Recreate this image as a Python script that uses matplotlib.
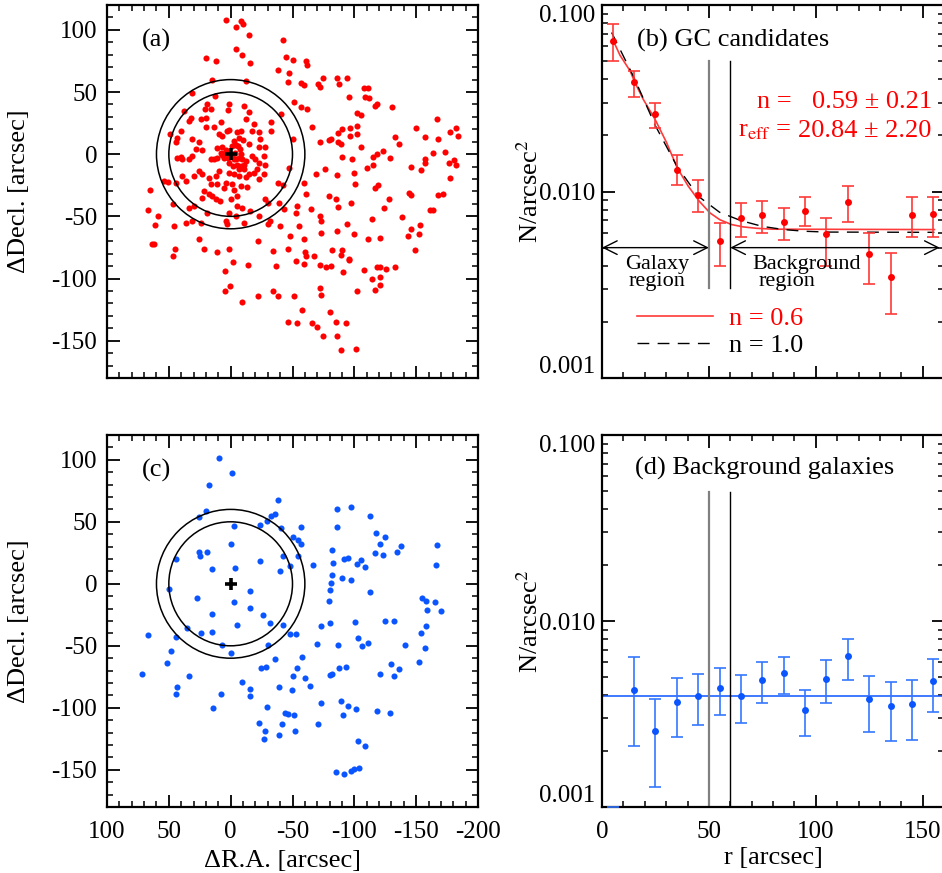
import matplotlib
matplotlib.use("Agg")
import matplotlib.pyplot as plt
from matplotlib.patches import Circle
from matplotlib.ticker import MultipleLocator, FixedLocator, FixedFormatter, LogLocator, NullFormatter

plt.rcParams['font.family'] = ['Liberation Serif', 'DejaVu Serif']
plt.rcParams['mathtext.fontset'] = 'stix'
plt.rcParams['axes.unicode_minus'] = False

# ---------------- (a) GC candidate positions [arcsec] ----------------
gc_dra = [
    4, -4, -8, -10, -15, -42, -4, -9, 20, -45, -50,
    65.5, 66.5,
    12, -16, -62, -61, -38, -47, 15, -12, -46, -57, -59, 31.5, 13, 19, 21, 16, 1, 2, -11, -15,
    -51, -57, -62, 38, -41, 32, 34, 24, 20, 8, -12, -19, -33, -65.5, 40, 20, 13.5, 3, 1, -5, -8,
    -17.5, -23, -33, 49, 43, 44.5, 31, 25.6, 9.4, 6.7, -6.7, -24, -50, -2.7, -10, -15, -28, -23,
    28, 23, 11, 6.7, 3.5, -1.3, -4.6, -6.2, -7.3, 40, 43, 39, 34, 31, 16, 13.5, 11, 7.3, 5.4,
    -2.7, -6.7, -9.4, -12, -17.5, -20, -23, -27, -28, -47, -69, 1.3, -2, -5.4, -8, -11, -6.7,
    -11, -21.6, -19, 39, 36, 44.5, 54, 51, 29.6, 25.6, 23, 17.5, 12, 9.4, 1.3, -2.7, -6.7, -12,
    -15, -27, -23, 16, 11, 4, -1.3, -8, -13.5, 5.4, -2.7, -38, -42, -59, 21.6, 17.5, 15, 12, 9,
    23, 0, -5.4, -28, -30, -39, -61, 29.6, 33.7, 19, 1.3, -5.4, -9.4, -4, -16, -23, -43, -54,
    -53, -65, 59, 47, 36, 31, 24, 4, 2.7, -11, -30, -32, -40, -55, 61, 46,
    4.6, -3.5, -4.6, 1, -1, 8, -8, 2,
    -71, -72, -75, -86, -88, -94, -96, -108, -111, -109, -112, -117, -118, -130.5, -102, -105,
    -90, -87, -96.5, -96.5, -102, -102, -79.5, -81, -72, -87, -89, -105, -90, -98, -115, -118,
    -123.5, -129, -115, -110, -100, -86, -76, -100.5, -119, -117, -128, -124, -114, -97.6, -85,
    -87, -79.5, -94, -86, -72, -73, -73, -100, -82, -90, -89, -96, -111, -120.5, -150, -157,
    -167, -168, -164, -177, -182.5, -184, -173, -176.5, -180.6, -182.5, -177, -157, -157, -154,
    -146, -133, -136, -144, -146, -168, -171.6, -161, -164, -138.5, -146, -153, -152, -143, -149,
    64, 62, 46.6, 45, 26, 21.6, 11, 1.6, -2.2, 4.6, 0.5, 4.6, -9.4, -13.7, -22, -34, -37, -34.5,
    -38, -22, -46, -53, -59, -51, -46, -54, -58, -65.5, -69.5, -60.6, -60, -59.6, -67.7, -48,
    -72, -73, -72, -77, -81, -80, -75, -85, -93, -86, -89, -101.6, -102, -90.6, -96, -108, -114,
    -117, -118.6, -120.5, -120.5, -121, -126, -133,
]
gc_ddec = [
    108, 102, 107, 105, 96, 92, 85, 80, 77, 78, 76,
    -29, -45,
    75, 73, 72, 75, 68, 65, 60, 59, 58, 57, 56, 49, 47, 40, 36, 36, 40, 35.5, 39, 34,
    42, 38, 36, 35, 32, 29, 27, 28, 29, 26, 28, 24, 25.5, 21.5, 19, 22, 21.5, 19, 19.4, 18, 19,
    19, 18, 19, 16, 13, 10, 12.6, 10, 16, 15, 13.4, 12.6, 12.6, 10.8, 11.6, 8, 6, 6,
    4, 3.5, 4.6, 5.4, 3.5, 6.2, 7.3, 6.2, 4, -2, -3, -4, -4, -1.3, -4, -3.5, -2.7, -0.8, -2.7,
    -4, -2.7, -3.5, -5.4, -1.3, -4, -6.7, -1.3, -9, -11, -16, -6.7, -9.4, -9, -9.4, -9, -12,
    -12, -12, -15, -17.5, -21.5, -23, -21.5, -22, -17.5, -13.4, -16, -19, -17.5, -13.4, -15, -16, -17.5, -18,
    -16, -16, -19.6, -24, -24, -23, -24, -25.5, -26, -27, -29, -23, -25, -23, -30, -32, -33.6, -36, -37.6,
    -35, -36, -33.6, -36, -39, -39, -32, -42, -43, -47, -47, -42, -43, -50, -46, -50, -44, -42,
    -47, -44, -50, -40, -55, -54, -55, -54, -56.5, -55, -56.5, -54, -58, -58, -57, -58,
    1.3, 0.8, -4, 2, -1.5, 1, 0, -3,
    56.5, 54, 61, 61, 56.5, 61, 46, 53, 53, 46, 45, 39, 40, 38, 33, 31.5,
    20, 17, 21, 15, 23, 16, 11.6, 12.6, 10, 10, 8, 5.6, -2, -4, -2, 0,
    2.4, -2.7, -9, -11, -15, -17, -12, -24, -25, -27, -36, -43.5, -52, -39.5, -36,
    -42.5, -33.6, -56.5, -62, -49.5, -54, -63, -64.5, -77, -77, -81, -84, -68.5, -67, 21, 14,
    28, 12, 1.3, 18, 21, 15, 1.6, -6.7, -4.6, -9, -19, -3.5, -7.3, -12.4,
    -10, 14, 8.6, -31.5, -33, -33, -32, -45, -45, -50.5, -60, -57, -64.5, -66, -77,
    -72, -72, -81.5, -76.6, -68.5, -76.6, -79, -76, -86.6, -94, -106, -110, -119, -89, -70, -78, -90, -110,
    -114, -114, -76, -86, -88, -114, -135, -136, -125.5, -136, -139, -81.5, -79, -68.5, -81.5, -66,
    -107.5, -113, -89, -91, -90, -127, -146, -135, -136, -146, -157.5, -157, -110, -95, -85, -93, -100,
    -109, -91, -91, -99, -105, -92, -91,
]

# ---------------- (c) background galaxy positions [arcsec] ----------------
bg_dra = [
    9.4, -1, 17.5, -38, 19.7, 26, -33, -36, -29, -23.5, -2.4, -41, -56.6, -50.7, -54.4, -57, -0.5,
    25.6, 24.5, 19, 44.5, -42.6, -54.7, -23.7, 15.4, -3.2, -39.6, -48, -66.3, -86.3, -97.6, -113,
    -86.3, -117.5, -125, -121, -138, -134.5, -116.7, -123, -82, -92, -95, -83, -102, -105, -109,
    -81.7, -90.3, -97.6, -81, -80, -113, -79.5, -167, -166, -155, -158, -165.5, -158.5, -170,
    50, 27.5, -2.7, -15.4, -15.6, 15.4, -26.4, -32, -42.6, -5.4, -73, -80, -100.5, -125, -132, -158,
    67, 44.5, 35, 23.7, 15.4, 48.5, 51.8, 72, 33.7, 43, 44, 14.6, 7.8, 7.3, -0.3, -9, -15.4, -15.4,
    -30.5, -35.8, -24.5, -28.3, -29.6, -23, -27.8, -27, -39, -41.6, -39, -43.7, -46.4, -51.5,
    -47.7, -52.6, -58, -54, -50.7, -49.6, -60, -64, -52, -69.5, -73.3, -70.6, -80, -81.7, -87.3,
    -86.8, -93, -89, -91, -95, -101, -103, -106.5, -111, -121, -130, -136, -132, -118, -128.6,
    -141, -152, -154, -157, -103, -108.6, -85, -92, -97, -100, -104,
]
bg_ddec = [
    101.6, 89.5, 80, 67.5, 59, 53.5, 55, 56.5, 51, 47.6, 46.5, 45.4, 45.7, 37.4, 35, 32.5, 32.5,
    26, 22.8, 25.5, 20.4, 22.8, 22.8, 18.3, 11.8, 12.6, 10.5, 14, 15.3, 60.5, 62, 54.6,
    46, 40.6, 38, 32.5, 30.4, 25.5, 24.5, 23, 27.4, 20, 20.7, 17, 16, 18.8, 13.4,
    7, 5, 3.2, 0.3, -5, -7, -14, 31, 15.3, -11.6, -14, -15, -21, -22,
    -4, -11.6, -15, -6.2, -19.6, -24.5, -25.5, -31.7, -33, -33, -34.4, -31.7, -30.6, -30.4, -30.4, -34.4,
    -41, -42.5, -36, -40, -38.7, -54, -64, -73, -74.5, -83.6, -89, -100.5, -89, -49.7, -55.6, -79, -85, -90.6,
    -49.7, -61, -67.5, -66.7, -99, -112, -119, -125, -83.6, -113, -122, -104, -105, -105.6,
    -40.3, -40.3, -59.4, -67.5, -74.7, -85.5, -76, -82.5, -118.5, -48.6, -96, -113, -73.4, -73, -68.3,
    -49.7, -67, -94.6, -105.6, -98.4, -101, -43.8, -50.5, -47.8, -72.8, -65, -68.5, -74.7, -102.7, -104,
    -49, -63.4, -39.8, -51.6, -126.6, -130.6, -151.6, -153, -150.8, -149.5, -148.7,
]

# ---------------- (b) GC radial surface density [N/arcsec^2] ----------------
r_bins = [5, 15, 25, 35, 45, 55, 65, 75, 85, 95, 105, 115, 125, 135, 145, 155]
gc_dens = [0.064, 0.0385, 0.026, 0.0131, 0.0096, 0.0054, 0.0072, 0.0075, 0.0069, 0.0079,
           0.0059, 0.0088, 0.0046, 0.0035, 0.0075, 0.0076]
gc_hi = [0.079, 0.044, 0.030, 0.0156, 0.0115, 0.0068, 0.0087, 0.0089, 0.0082, 0.0093,
         0.0072, 0.0107, 0.0060, 0.0047, 0.0093, 0.0094]
gc_lo = [0.050, 0.032, 0.022, 0.0108, 0.0078, 0.0040, 0.0057, 0.0060, 0.0055, 0.0065,
         0.0040, 0.0069, 0.0032, 0.0022, 0.0057, 0.0057]

# Sersic + background fits
fit06_r = [5.3, 8.4, 13.1, 15.4, 19.3, 24.8, 30.2, 35.2, 40.3, 45.5, 50.5, 55.1, 60.6, 66.0,
           72.3, 80.0, 155.5]
fit06_n = [0.0643, 0.0538, 0.0444, 0.0384, 0.0312, 0.0244, 0.0183, 0.0134, 0.0107, 0.00887,
           0.00768, 0.00706, 0.00665, 0.00646, 0.00635, 0.00628, 0.00625]
fit10_r = [4.5, 15, 25, 35, 45, 55, 65, 75, 85, 95, 105, 155.5]
fit10_n = [0.0712, 0.0408, 0.0225, 0.0137, 0.00944, 0.00774, 0.00698, 0.00650, 0.00625,
           0.00612, 0.00606, 0.00604]

# ---------------- (d) background galaxy radial density ----------------
bgp_r = [5, 15, 25, 35, 45, 55, 65, 75, 85, 95, 105, 115, 125, 135, 145, 155]
bgp_dens = [0.0, 0.00426, 0.00256, 0.00366, 0.00395, 0.00436, 0.00395, 0.00482, 0.00525,
            0.00333, 0.00490, 0.00646, 0.00381, 0.00349, 0.00356, 0.00475]
bgp_hi = [0.001, 0.00638, 0.00382, 0.00494, 0.00517, 0.00561, 0.00511, 0.00604, 0.00643,
          0.00424, 0.00615, 0.00803, 0.00508, 0.00472, 0.00479, 0.00625]
bgp_lo = [0.0, 0.00214, 0.00128, 0.00237, 0.00275, 0.00311, 0.00282, 0.00362, 0.00405,
          0.00241, 0.00364, 0.00484, 0.00254, 0.00225, 0.00230, 0.00324]
bg_level = 0.00394

r_galaxy = 50
r_background = 60

RED = '#ff0000'
RED_BAR = '#ff3a3a'
BLUE = '#0a55ff'
BLUE_BAR = '#3577ff'

W, H = 942, 873
fig = plt.figure(figsize=(W / 100, H / 100), dpi=100)
ax_a = fig.add_axes([107 / W, 1 - 378 / H, 371 / W, 373 / H])
ax_b = fig.add_axes([602 / W, 1 - 378 / H, 342 / W, 373 / H])
ax_c = fig.add_axes([107 / W, 1 - 807 / H, 371 / W, 372 / H])
ax_d = fig.add_axes([602 / W, 1 - 807 / H, 342 / W, 372 / H])

TICK_FS = 18
LAB_FS = 19


def style(ax):
    for s in ax.spines.values():
        s.set_linewidth(1.6)
    ax.tick_params(which='both', direction='in', top=True, right=True,
                   labelsize=TICK_FS)
    ax.tick_params(which='major', length=9, width=1.3)
    ax.tick_params(which='minor', length=4.5, width=1.1)


# ----- position maps -----
for ax, xs, ys, col, lab in [(ax_a, gc_dra, gc_ddec, RED, '(a)'),
                             (ax_c, bg_dra, bg_ddec, BLUE, '(c)')]:
    ax.plot(xs, ys, 'o', color=col, ms=4.4, mew=0, zorder=2)
    for rad in (r_galaxy, r_background):
        ax.add_patch(Circle((0, 0), rad, fill=False, ec='black', lw=1.1, zorder=3))
    ax.plot([0], [0], '+', color='black', ms=9, mew=2.6, zorder=4)
    ax.set_xlim(100, -200)
    ax.set_ylim(-180, 120)
    ax.xaxis.set_major_locator(MultipleLocator(50))
    ax.xaxis.set_minor_locator(MultipleLocator(10))
    ax.yaxis.set_major_locator(FixedLocator([-150, -100, -50, 0, 50, 100]))
    ax.yaxis.set_minor_locator(MultipleLocator(10))
    style(ax)
    ax.tick_params(axis='y', pad=7)
    ax.set_ylabel('ΔDecl. [arcsec]', fontsize=LAB_FS)
    ax.yaxis.set_label_coords(-0.207, 0.5)
    ax.text(0.093, 0.905, lab, transform=ax.transAxes, fontsize=LAB_FS,
            ha='left', va='center')

ax_a.tick_params(axis='x', labelbottom=False)
ax_c.tick_params(axis='x', pad=10)
ax_c.set_xlabel('ΔR.A. [arcsec]', fontsize=LAB_FS)
ax_c.xaxis.set_label_coords(0.474, -0.115)


# ----- radial profiles -----
def profile_axes(ax):
    ax.set_yscale('log')
    ax.set_xlim(0, 160)
    ax.set_ylim(0.001, 0.1)
    ax.yaxis.set_major_locator(FixedLocator([0.001, 0.01, 0.1]))
    ax.yaxis.set_major_formatter(FixedFormatter(['0.001', '0.010', '0.100']))
    ax.yaxis.set_minor_locator(LogLocator(base=10, subs=range(2, 10)))
    ax.yaxis.set_minor_formatter(NullFormatter())
    ax.xaxis.set_major_locator(MultipleLocator(50))
    ax.xaxis.set_minor_locator(MultipleLocator(10))
    style(ax)
    ax.tick_params(axis='y', pad=5)
    ax.set_ylabel('N/arcsec$^2$', fontsize=LAB_FS)
    ax.yaxis.set_label_coords(-0.172, 0.5)
    # keep the end labels inside the frame
    fig.canvas.draw()
    labels = ax.get_yticklabels()
    labels[0].set_va('bottom')
    labels[-1].set_va('top')


profile_axes(ax_b)
profile_axes(ax_d)

# (b)
yerr_b = [[d - lo for d, lo in zip(gc_dens, gc_lo)], [hi - d for d, hi in zip(gc_dens, gc_hi)]]
ax_b.errorbar(r_bins, gc_dens, yerr=yerr_b, fmt='none', ecolor=RED_BAR, elinewidth=1.2,
              capsize=4, capthick=1.2, zorder=3)
ax_b.plot(r_bins, gc_dens, 'o', color=RED, ms=5, mew=0, zorder=4)
l06, = ax_b.plot(fit06_r, fit06_n, '-', color=RED_BAR, lw=1.2, zorder=2)
l10, = ax_b.plot(fit10_r, fit10_n, '--', color='black', lw=1.0, dashes=(8.5, 6), zorder=2)
ax_b.plot([r_galaxy, r_galaxy], [0.00305, 0.05], color='#808080', lw=1.6)
ax_b.plot([r_background, r_background], [0.00305, 0.05], color='black', lw=1.0)
arrow_kw = dict(arrowstyle='<->,head_length=0.7,head_width=0.35', lw=1.0, color='black',
                shrinkA=0, shrinkB=0, mutation_scale=14)
ax_b.annotate('', xy=(r_galaxy, 0.005), xytext=(0, 0.005), arrowprops=arrow_kw)
ax_b.annotate('', xy=(158, 0.005), xytext=(r_background, 0.005), arrowprops=arrow_kw)
ax_b.text(0.16, 0.304, 'Galaxy', transform=ax_b.transAxes, fontsize=16, ha='center', va='center')
ax_b.text(0.16, 0.258, 'region', transform=ax_b.transAxes, fontsize=16, ha='center', va='center')
ax_b.text(0.598, 0.304, 'Background', transform=ax_b.transAxes, fontsize=16, ha='center', va='center')
ax_b.text(0.54, 0.258, 'region', transform=ax_b.transAxes, fontsize=16, ha='center', va='center')
ax_b.text(0.101, 0.906, '(b) GC candidates', transform=ax_b.transAxes, fontsize=LAB_FS,
          ha='left', va='center')
ax_b.text(0.553, 0.724, 'n =', transform=ax_b.transAxes, fontsize=LAB_FS, color=RED,
          ha='right', va='baseline')
ax_b.text(0.964, 0.724, '0.59 ± 0.21', transform=ax_b.transAxes, fontsize=LAB_FS, color=RED,
          ha='right', va='baseline')
ax_b.text(0.553, 0.647, r'r$_{\rm eff}$ =', transform=ax_b.transAxes, fontsize=LAB_FS,
          color=RED, ha='right', va='baseline')
ax_b.text(0.962, 0.647, '20.84 ± 2.20', transform=ax_b.transAxes, fontsize=LAB_FS, color=RED,
          ha='right', va='baseline')
ax_b.legend([l06, l10], ['n = 0.6', 'n = 1.0'], loc='upper left', bbox_to_anchor=(0.102, 0.192),
            frameon=False, fontsize=LAB_FS, handlelength=2.9, handletextpad=0.6,
            labelspacing=0.15, borderpad=0, borderaxespad=0, labelcolor=[RED, 'black'])
ax_b.tick_params(axis='x', labelbottom=False)

# (d)
yerr_d = [[d - lo for d, lo in zip(bgp_dens, bgp_lo)], [hi - d for d, hi in zip(bgp_dens, bgp_hi)]]
ax_d.errorbar(bgp_r, bgp_dens, yerr=yerr_d, fmt='none', ecolor=BLUE_BAR, elinewidth=1.2,
              capsize=4, capthick=1.2, zorder=3)
ax_d.plot(bgp_r[1:], bgp_dens[1:], 'o', color=BLUE, ms=5, mew=0, zorder=4)
ax_d.axhline(bg_level, color=BLUE, lw=1.1, zorder=2)
ax_d.plot([r_galaxy, r_galaxy], [0.001, 0.0496], color='#808080', lw=1.6)
ax_d.plot([r_background, r_background], [0.001, 0.0496], color='black', lw=1.0)
ax_d.text(0.096, 0.909, '(d) Background galaxies', transform=ax_d.transAxes, fontsize=LAB_FS,
          ha='left', va='center')
ax_d.tick_params(axis='x', pad=10)
ax_d.set_xlabel('r [arcsec]', fontsize=LAB_FS)
ax_d.xaxis.set_label_coords(0.5, -0.107)

fig.savefig('out.png', dpi=100)
